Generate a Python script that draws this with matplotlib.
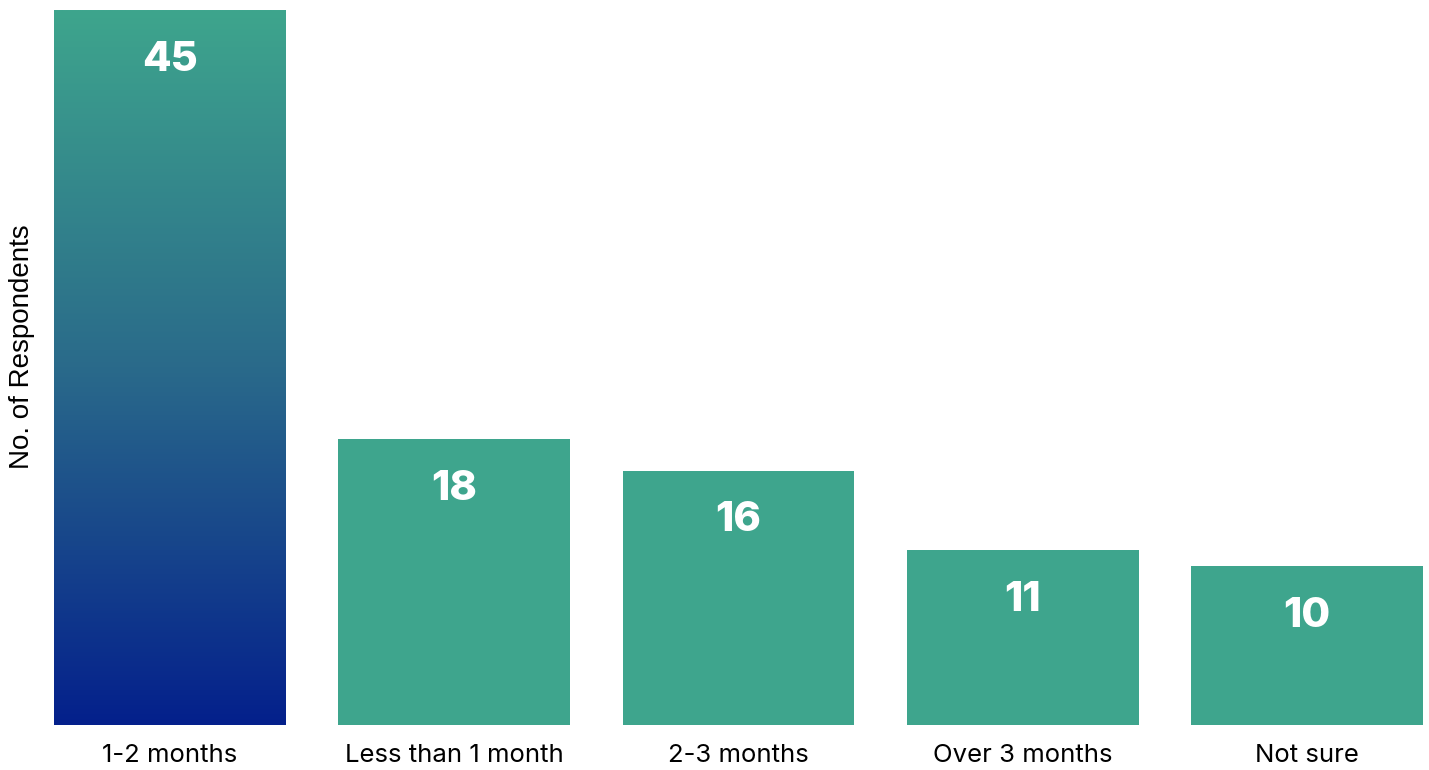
import matplotlib.pyplot as plt
import numpy as np
from matplotlib.colors import LinearSegmentedColormap

categories = ["1-2 months", "Less than 1 month", "2-3 months", "Over 3 months", "Not sure"]
respondents = [45, 18, 16, 11, 10]

teal = "#3ea58d"
grad = LinearSegmentedColormap.from_list("tealblue", ["#04208c", "#2a6a8a", "#3ea58d"])

fig = plt.figure(figsize=(14.29, 7.70), dpi=100)
ax = fig.add_axes([54 / 1429, 45 / 770, 1369 / 1429, 715 / 770])

x = np.arange(len(categories))
width = 0.815
bars = ax.bar(x, respondents, width=width, color=teal, zorder=2)

# first bar gets a vertical gradient, clipped to its rectangle
first = bars[0]
first.set_facecolor("none")
x0 = first.get_x()
h = first.get_height()
img = ax.imshow(np.linspace(0, 1, 256).reshape(-1, 1), cmap=grad, origin="lower",
                extent=[x0, x0 + width, 0, h], aspect="auto", zorder=1)
img.set_clip_path(first)

for xi, v in zip(x, respondents):
    ax.annotate(str(v), (xi, v), xytext=(0, -22), textcoords="offset points",
                ha="center", va="top", color="white", fontsize=30,
                fontweight="heavy", family="Inter")

ax.set_xlim(-width / 2, len(categories) - 1 + width / 2)
ax.set_ylim(0, max(respondents))
ax.set_xticks(x)
ax.set_xticklabels(categories, fontsize=18.5, family="Inter")
ax.tick_params(axis="x", length=0, pad=14)
ax.set_yticks([])
for s in ax.spines.values():
    s.set_visible(False)

fig.text(22 / 1429, 1 - 347 / 770, "No. of Respondents", rotation=90,
         ha="center", va="center", fontsize=20, family="Liberation Sans")

fig.savefig("out.png", dpi=100, facecolor="white")
